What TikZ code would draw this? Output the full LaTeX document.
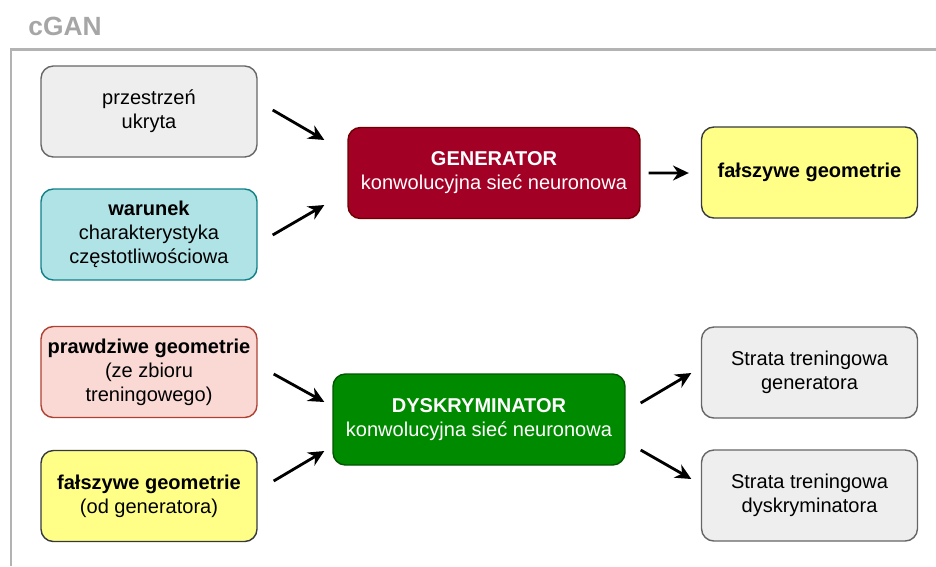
\documentclass[tikz,border=0pt]{standalone}
\usepackage{fontspec}
\setmainfont{Liberation Sans}
\usetikzlibrary{arrows.meta}
\definecolor{boxgray}{HTML}{EEEEEE}
\definecolor{edgegray}{HTML}{666666}
\definecolor{framegray}{HTML}{B3B3B3}
\definecolor{titlegray}{HTML}{A6A6A6}
\definecolor{condfill}{HTML}{B0E3E6}
\definecolor{condedge}{HTML}{0E8088}
\definecolor{genfill}{HTML}{A20025}
\definecolor{genedge}{HTML}{6F0000}
\definecolor{fakefill}{HTML}{FFFF88}
\definecolor{fakeedge}{HTML}{36393D}
\definecolor{realfill}{HTML}{FAD9D5}
\definecolor{realedge}{HTML}{AE4132}
\definecolor{discfill}{HTML}{008A00}
\definecolor{discedge}{HTML}{005700}
\begin{document}
\begin{tikzpicture}[x=0.02cm,y=-0.02cm,
  box/.style={draw,rounded corners=7pt,line width=0.8pt,align=center,
    minimum width=4.32cm,minimum height=1.82cm,
    font=\fontsize{11.4}{13.6}\selectfont},
  netbox/.style={box,minimum width=5.84cm,text=white},
  arr/.style={line width=1.6pt,-{Stealth[length=9pt,width=8.5pt]}}]
\useasboundingbox (0,0) rectangle (936,566);
\node[anchor=west,inner sep=0pt,text=titlegray,font=\fontsize{15}{18}\selectfont\bfseries] (title) at (28,26) {cGAN};
\draw[framegray,line width=1.7pt] (11,566) -- (11,49) -- (936,49);
% generator half
\node[box,fill=boxgray,draw=edgegray] (latent) at (149,111.5) {przestrzeń\\ukryta};
\node[box,fill=condfill,draw=condedge] (cond) at (149,234.5) {\textbf{warunek}\\charakterystyka\\częstotliwościowa};
\node[netbox,fill=genfill,draw=genedge] (gen) at (494,173) {\textbf{GENERATOR}\\konwolucyjna sieć neuronowa};
\node[box,fill=fakefill,draw=fakeedge] (fakeout) at (809.5,172.5) {\textbf{fałszywe geometrie}};
% discriminator half
\node[box,fill=realfill,draw=realedge] (real) at (149,372) {\textbf{prawdziwe geometrie}\\(ze zbioru\\treningowego)};
\node[box,fill=fakefill,draw=fakeedge] (fakein) at (149,496) {\textbf{fałszywe geometrie}\\(od generatora)};
\node[netbox,fill=discfill,draw=discedge] (disc) at (479,419.5) {\textbf{DYSKRYMINATOR}\\konwolucyjna sieć neuronowa};
\node[box,fill=boxgray,draw=edgegray] (lossg) at (809.5,372.5) {Strata treningowa\\generatora};
\node[box,fill=boxgray,draw=edgegray] (lossd) at (809.5,495.5) {Strata treningowa\\dyskryminatora};
\draw[arr] ([shift={(15,-1.5)}]latent.east) -- ([shift={(-23,-33)}]gen.west);
\draw[arr] ([shift={(15,0.5)}]cond.east) -- ([shift={(-23,32)}]gen.west);
\draw[arr] ([shift={(8,0)}]gen.east) -- ([shift={(-12,0.5)}]fakeout.west);
\draw[arr] ([shift={(16,2)}]real.east) -- ([shift={(-8,-17.5)}]disc.west);
\draw[arr] ([shift={(16,-15)}]fakein.east) -- ([shift={(-8,31.5)}]disc.west);
\draw[arr] ([shift={(15,-16.5)}]disc.east) -- ([shift={(-9.5,0.5)}]lossg.west);
\draw[arr] ([shift={(15,30.5)}]disc.east) -- ([shift={(-9.5,-16.5)}]lossd.west);
\end{tikzpicture}
\end{document}
